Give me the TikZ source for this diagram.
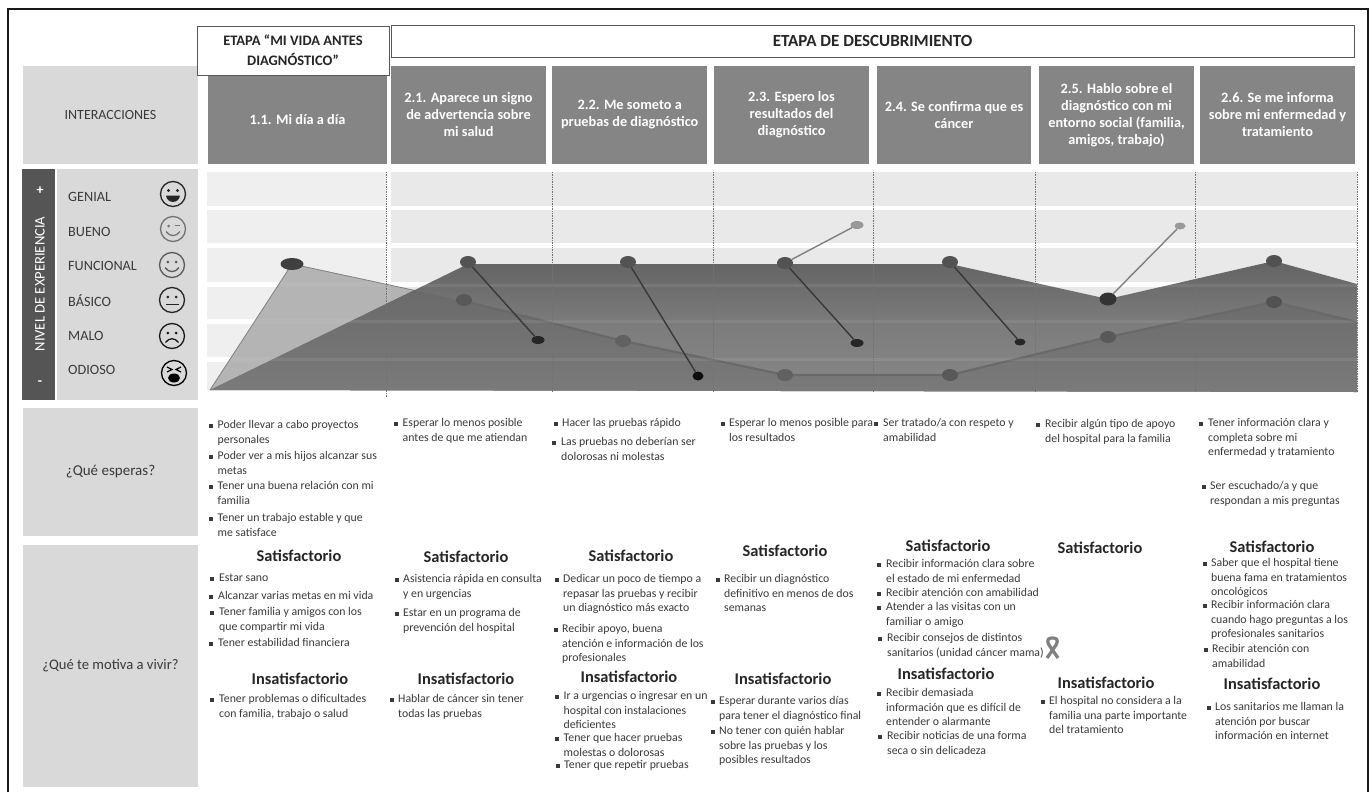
\documentclass[tikz,border=0pt]{standalone}
\usepackage{fontspec}
\setmainfont{Carlito}
\usetikzlibrary{shapes.geometric}
\definecolor{hdr}{HTML}{858585}
\definecolor{lite}{HTML}{D9D9D9}
\definecolor{darkbar}{HTML}{555555}
\definecolor{txt}{HTML}{3A3A3A}
\definecolor{bandA}{HTML}{EFEFEF}
\definecolor{bandB}{HTML}{E9E9E9}
\definecolor{serB}{HTML}{A6A6A6}
\newcounter{tn}
\tikzset{
 x=1pt,y=-1pt,
 hdrbox/.style={fill=hdr,text=white,font=\fontsize{14.3}{17}\selectfont\bfseries,align=center,inner sep=0pt},
 litebox/.style={fill=lite,text=txt,align=center,inner sep=0pt},
 stagebox/.style={fill=white,draw=black!65,line width=.8pt,text=black!85,align=center,inner sep=0pt},
 itemtxt/.style={anchor=north west,inner sep=0pt,align=left,text=txt,font=\fontsize{11.8}{14.4}\selectfont},
 bigtxt/.style={inner sep=0pt,text=black!85,font=\fontsize{16.4}{18}\selectfont\bfseries},
 lvl/.style={anchor=west,inner sep=0pt,text=txt,font=\fontsize{14.2}{15}\selectfont},
 vline/.style={draw=black!55,densely dotted,line width=.7pt},
 dotA/.style={ellipse,fill=#1,inner sep=0pt,minimum width=16pt,minimum height=12pt},
 dotS/.style={ellipse,fill=#1,inner sep=0pt,minimum width=13pt,minimum height=8pt},
 spoke/.style={line width=1.4pt,draw=#1},
}
\newcommand{\itm}[4]{\stepcounter{tn}\fill[txt] (#1-1.7,#3-1.7) rectangle ++(3.4,3.4);
 \node[itemtxt] (t\thetn) at (#2,#3-6.5) {\rule{0pt}{9pt}#4};}
\newcommand{\face}[4]{% x,y,colour,features
 \begin{scope}[shift={(#1,#2)},draw=#3,fill=#3,line width=1.3pt]
 \draw[fill=none] (0,0) circle (12.5); #4
 \end{scope}}
\begin{document}
\begin{tikzpicture}
\useasboundingbox (0,0) rectangle (1372,792);
\fill[white] (0,0) rectangle (1372,792);
% frame
\draw[line width=2.4pt,draw=black!90] (8,792) -- (8,9) -- (1368,9) -- (1368,792);
% grey header boxes
\node[litebox,minimum width=175pt,minimum height=98pt,font=\fontsize{14}{16}\selectfont] (inter) at (110.5,115) {INTERACCIONES};
\node[hdrbox,minimum width=179.5pt,minimum height=98pt] (h11) at (297.5,115) {};
\node[inner sep=0pt,text=white,font=\fontsize{14.3}{17}\selectfont\bfseries] (h11t) at (297.5,120) {1.1. Mi día a día};
\node[hdrbox,minimum width=155pt,minimum height=98pt] (h21) at (468.5,115) {2.1. Aparece un signo\\de advertencia sobre\\mi salud};
\node[hdrbox,minimum width=155.5pt,minimum height=98pt] (h22) at (629.7,115) {2.2. Me someto a\\pruebas de diagnóstico};
\node[hdrbox,minimum width=155pt,minimum height=98pt] (h23) at (791.5,115) {2.3. Espero los\\resultados del\\diagnóstico};
\node[hdrbox,minimum width=154pt,minimum height=98pt] (h24) at (954,115) {2.4. Se confirma que es\\cáncer};
\node[hdrbox,minimum width=155pt,minimum height=98pt] (h25) at (1116.5,115) {2.5. Hablo sobre el\\diagnóstico con mi\\entorno social (familia,\\amigos, trabajo)};
\node[hdrbox,minimum width=155pt,minimum height=98pt] (h26) at (1277.5,115) {2.6. Se me informa\\sobre mi enfermedad y\\tratamiento};
\node[stagebox,minimum width=192pt,minimum height=49pt,font=\fontsize{14.5}{20}\selectfont\bfseries] (st1) at (293,50.5) {ETAPA “MI VIDA ANTES\\DIAGNÓSTICO”};
\node[stagebox,minimum width=963pt,minimum height=32pt,font=\fontsize{17}{20}\selectfont\bfseries] (st2) at (872.5,41) {ETAPA DE DESCUBRIMIENTO};
% level column
\node[fill=darkbar,minimum width=33pt,minimum height=231pt,inner sep=0pt] (lbar) at (38.5,284.5) {};
\node[fill=lite,minimum width=141pt,minimum height=231pt,inner sep=0pt] (lpanel) at (127.5,284.5) {};
\node[rotate=90,text=white,inner sep=0pt,font=\fontsize{14.6}{16}\selectfont] (nivel) at (40,284) {NIVEL DE EXPERIENCIA};
\node[text=white,inner sep=0pt,font=\fontsize{14}{16}\selectfont\bfseries] (mas) at (40,191) {+};
\node[text=white,inner sep=0pt,font=\fontsize{14}{16}\selectfont\bfseries] (menos) at (40,383) {-};
\node[lvl] (l1) at (68,197) {GENIAL};
\node[lvl] (l2) at (68,232) {BUENO};
\node[lvl] (l3) at (68,266) {FUNCIONAL};
\node[lvl] (l4) at (68,301) {BÁSICO};
\node[lvl] (l5) at (68,336) {MALO};
\node[lvl] (l6) at (68,370) {ODIOSO};
% faces
\face{173}{194}{black!85}{\fill (-4.5,-3.5) circle (1.6); \fill (4.5,-3.5) circle (1.6); \fill (-7,1.5) -- (7,1.5) .. controls (6,10) and (-6,10) .. (-7,1.5) -- cycle;}
\face{173}{229}{black!55}{\fill (-4.5,-3) circle (1.5); \draw (2,-3.2) -- (7,-3.2); \draw (-7,2.5) .. controls (-3,8) and (3,8) .. (7,2.5);}
\face{172}{265}{black!65}{\fill (-4.2,-3) circle (1.5); \fill (4.2,-3) circle (1.5); \draw (-7,2.5) .. controls (-3,8) and (3,8) .. (7,2.5);}
\face{172}{300}{black!85}{\fill (-4.2,-3) circle (1.5); \fill (4.2,-3) circle (1.5); \draw (-6.5,4.5) -- (6.5,4.5);}
\face{172}{336}{black!90}{\fill (-4.2,-3) circle (1.5); \fill (4.2,-3) circle (1.5); \draw (-6.5,6.5) .. controls (-3,1.5) and (3,1.5) .. (6.5,6.5);}
\face{174}{373}{black}{\draw (-7,-6) -- (-2,-3.5) -- (-7,-1); \draw (7,-6) -- (2,-3.5) -- (7,-1); \fill (0,5) ellipse (6 and 4.5);}
% bands
\foreach \ya/\yb in {172/206,210/243,248/282,287/319,324/357,362/390}{
 \fill[bandA] (207,\ya) rectangle (386,\yb);
 \fill[bandB] (391,\ya) rectangle (1357,\yb);
}
% coordinates of the curves
\coordinate (o) at (210,390);
\coordinate (A1) at (468,264);
\coordinate (A2) at (950,264);
\coordinate (A3) at (1108,299);
\coordinate (A4) at (1274,261);
\coordinate (A5) at (1357,284);
\coordinate (B0) at (292,264);
\coordinate (B1) at (464,301);
\coordinate (B2) at (623,341);
\coordinate (B3) at (785,375);
\coordinate (B4) at (950,375);
\coordinate (B5) at (1108,337);
\coordinate (B6) at (1274,302);
\coordinate (B7) at (1357,322);
\coordinate (end) at (1357,392);
% lighter series
\fill[serB,fill opacity=.8] (o) -- (B0) -- (B1) -- (B2) -- (B3) -- (B4) -- (B5) -- (B6) -- (B7) -- (end) -- cycle;
\draw[draw=black!50,line width=.8pt] (o) -- (B0) -- (B1);
% darker series
\shade[top color=black!61,bottom color=black!47,middle color=black!51] (o) -- (A1) -- (A2) -- (A3) -- (A4) -- (A5) -- (end) -- cycle;
\begin{scope}
 \clip (o) -- (A1) -- (A2) -- (A3) -- (A4) -- (A5) -- (end) -- cycle;
 \shade[top color=black!60,bottom color=black!52] (o) -- (B0) -- (B1) -- (B2) -- (B3) -- (B4) -- (B5) -- (B6) -- (B7) -- (end) -- cycle;
 \draw[draw=black!59,line width=2.2pt] (B1) -- (B2) -- (B3) -- (B4) -- (B5) -- (B6) -- (B7);
 \foreach \yy in {285,321,359} \draw[white,opacity=.08,line width=3pt] (207,\yy) -- (1357,\yy);
\end{scope}
% verticals
\draw[vline] (386,172) -- (386,398);
\foreach \xx in {552,713,873,1035,1195,1357} \draw[vline] (\xx,172) -- (\xx,392);
% dots
\node[ellipse,fill=black!75,inner sep=0pt,minimum width=23pt,minimum height=12pt] (pB0) at (292,264) {};
\node[dotA=black!68] (pa1) at (468,262) {};
\node[dotA=black!68] (pa2) at (628,262) {};
\node[dotA=black!68] (pa3) at (785,263) {};
\node[dotA=black!68] (pa4) at (950,262) {};
\node[dotA=black!80,minimum width=17pt,minimum height=13pt] (pa5) at (1108,299) {};
\node[dotA=black!68] (pa6) at (1274,261) {};
\node[dotA=black!65] (pb1) at (464,300) {};
\node[dotA=black!62] (pb2) at (623,341) {};
\node[dotA=black!62] (pb3) at (785,375) {};
\node[dotA=black!65] (pb4) at (950,375) {};
\node[dotA=black!65] (pb5) at (1108,337) {};
\node[dotA=black!68] (pb6) at (1274,302) {};
\node[dotS=black!85] (q1) at (538,340) {};
\node[dotS=black!95,minimum width=11pt,minimum height=9pt] (q2) at (698,376) {};
\node[dotS=black!85] (q3) at (857,343) {};
\node[dotS=black!40] (u3) at (857,225) {};
\node[dotS=black!85,minimum width=11pt,minimum height=7pt] (q4) at (1020,342) {};
\node[dotS=black!40,minimum width=11pt,minimum height=7pt] (u5) at (1180,226) {};
\draw[spoke=black!78] (pa1) -- (q1);
\draw[spoke=black!78] (pa2) -- (q2);
\draw[spoke=black!78] (pa3) -- (q3);
\draw[spoke=black!50] (pa3) -- (u3);
\draw[spoke=black!78] (pa4) -- (q4);
\draw[spoke=black!50] (pa5) -- (u5);
% row boxes
\node[litebox,minimum width=175pt,minimum height=128pt,font=\fontsize{15}{18}\selectfont] (r1) at (110.5,472) {¿Qué esperas?};
\node[litebox,minimum width=175pt,minimum height=242pt,font=\fontsize{14.6}{18}\selectfont] (r2) at (110.5,666) {¿Qué te motiva a vivir?};
% Que esperas
\itm{211}{217.5}{426}{Poder llevar a cabo proyectos\\personales}
\itm{211}{217.5}{457}{Poder ver a mis hijos alcanzar sus\\metas}
\itm{211}{217.5}{487}{Tener una buena relación con mi\\familia}
\itm{211}{217.5}{519}{Tener un trabajo estable y que\\me satisface}
\itm{396}{402.5}{424}{Esperar lo menos posible\\antes de que me atiendan}
\itm{556}{562}{424}{Hacer las pruebas rápido}
\itm{554}{561}{443}{Las pruebas no deberían ser\\dolorosas ni molestas}
\itm{723}{729}{424}{Esperar lo menos posible para\\los resultados}
\itm{876}{883}{424}{Ser tratado/a con respeto y\\amabilidad}
\itm{1038}{1045}{425}{Recibir algún tipo de apoyo\\del hospital para la familia}
\itm{1201}{1208}{424}{Tener información clara y\\completa sobre mi\\enfermedad y tratamiento}
\itm{1204}{1210}{487}{Ser escuchado/a y que\\respondan a mis preguntas}
% Col 1
\node[bigtxt] (s1) at (299,556) {Satisfactorio};
\itm{212}{219}{579}{Estar sano}
\itm{211}{218}{597}{Alcanzar varias metas en mi vida}
\itm{212}{219}{613}{Tener familia y amigos con los\\que compartir mi vida}
\itm{211}{218}{644}{Tener estabilidad financiera}
\node[bigtxt] (i1) at (300,679) {Insatisfactorio};
\itm{212}{219}{700}{Tener problemas o dificultades\\con familia, trabajo o salud}
% Col 2
\node[bigtxt] (s2) at (466,557) {Satisfactorio};
\itm{397}{403}{580}{Asistencia rápida en consulta\\y en urgencias}
\itm{397}{403}{614}{Estar en un programa de\\prevención del hospital}
\node[bigtxt] (i2) at (466,679) {Insatisfactorio};
\itm{392}{398}{700}{Hablar de cáncer sin tener\\todas las pruebas}
% Col 3
\node[bigtxt] (s3) at (631,556) {Satisfactorio};
\itm{557}{563}{580}{Dedicar un poco de tiempo a\\repasar las pruebas y recibir\\un diagnóstico más exacto}
\itm{556}{562}{630}{Recibir apoyo, buena\\atención e información de los\\profesionales}
\node[bigtxt] (i3) at (629,677) {Insatisfactorio};
\itm{557}{563.5}{697}{Ir a urgencias o ingresar en un\\hospital con instalaciones\\deficientes}
\itm{557}{563.5}{739}{Tener que hacer pruebas\\molestas o dolorosas}
\itm{558}{564}{766}{Tener que repetir pruebas}
% Col 4
\node[bigtxt] (s4) at (785,551) {Satisfactorio};
\itm{718}{724}{580}{Recibir un diagnóstico\\definitivo en menos de dos\\semanas}
\node[bigtxt] (i4) at (783,679) {Insatisfactorio};
\itm{713}{719}{702}{Esperar durante varios días\\para tener el diagnóstico final}
\itm{713}{719}{732}{No tener con quién hablar\\sobre las pruebas y los\\posibles resultados}
% Col 5
\node[bigtxt] (s5) at (948,546) {Satisfactorio};
\itm{879}{886}{565}{Recibir información clara sobre\\el estado de mi enfermedad}
\itm{879}{886}{594}{Recibir atención con amabilidad}
\itm{879}{886}{608}{Atender a las visitas con un\\familiar o amigo}
\itm{880}{887}{639}{Recibir consejos de distintos\\sanitarios (unidad cáncer mama)}
\node[bigtxt] (i5) at (946,674) {Insatisfactorio};
\itm{879}{886}{694}{Recibir demasiada\\información que es difícil de\\entender o alarmante}
\itm{880}{887}{737}{Recibir noticias de una forma\\seca o sin delicadeza}
% ribbon
\draw[black!50,line width=3.2pt,line join=round] (1047,658) -- (1056,645) .. controls (1059,639) and (1056,638) .. (1052.5,638) .. controls (1049,638) and (1046,639) .. (1049,645) -- (1058,658);
% Col 6
\node[bigtxt] (s6) at (1100,548) {Satisfactorio};
\node[bigtxt] (i6) at (1106,683) {Insatisfactorio};
\itm{1043}{1049}{702}{El hospital no considera a la\\familia una parte importante\\del tratamiento}
% Col 7
\node[bigtxt] (s7) at (1272,547) {Satisfactorio};
\itm{1205}{1211}{564}{Saber que el hospital tiene\\buena fama en tratamientos\\oncológicos}
\itm{1205}{1211}{606}{Recibir información clara\\cuando hago preguntas a los\\profesionales sanitarios}
\itm{1206}{1212}{650}{Recibir atención con\\amabilidad}
\node[bigtxt] (i7) at (1272,684) {Insatisfactorio};
\itm{1209}{1215}{708}{Los sanitarios me llaman la\\atención por buscar\\información en internet}
\end{tikzpicture}
\end{document}
